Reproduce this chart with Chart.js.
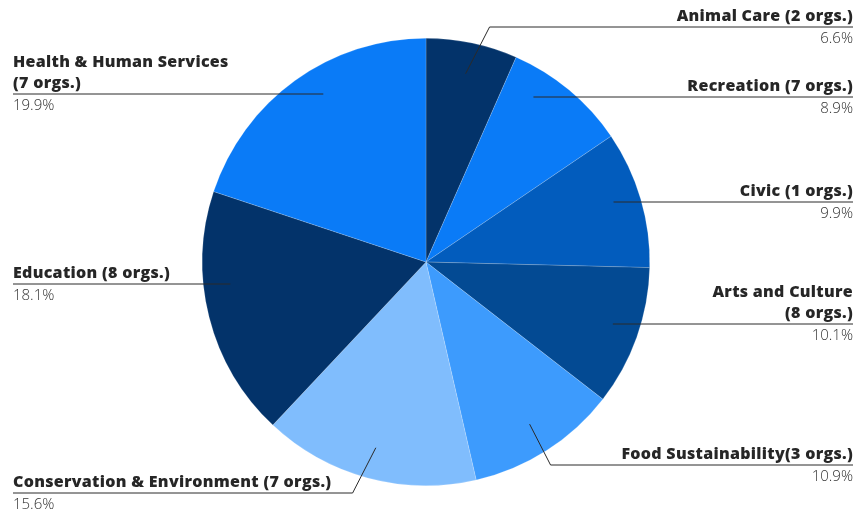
<!DOCTYPE html>
<html>
<head>
<meta charset="utf-8">
<script src="https://cdn.jsdelivr.net/npm/chart.js@4/dist/chart.umd.min.js"></script>
<style>
html,body{margin:0;padding:0;background:#fff;}
#wrap{width:856px;height:510px;position:relative;}
</style>
</head>
<body>
<div id="wrap"><canvas id="c" width="856" height="510"></canvas></div>
<script>
const categories = [
  ['Animal Care (2 orgs.)'],
  ['Recreation (7 orgs.)'],
  ['Civic (1 orgs.)'],
  ['Arts and Culture', '(8 orgs.)'],
  ['Food Sustainability(3 orgs.)'],
  ['Conservation & Environment (7 orgs.)'],
  ['Education (8 orgs.)'],
  ['Health & Human Services', '(7 orgs.)']
];
const values = [6.6, 8.9, 9.9, 10.1, 10.9, 15.6, 18.1, 19.9];
const colors = ['#03336a', '#0a7bf7', '#025cbd', '#034a93', '#3d9bfd', '#80bdfd', '#03336a', '#0a7bf7'];
const labelLineY = [27, 97, 202, 324, 465, 493, 284, 94];

const labelPlugin = {
  id: 'leaderLabels',
  afterDraw(chart) {
    const ctx = chart.ctx;
    const meta = chart.getDatasetMeta(0);
    const W = chart.width;
    const leftX = 13, rightX = W - 3;
    ctx.save();
    meta.data.forEach((arc, i) => {
      const p = arc.getProps(['x', 'y', 'startAngle', 'endAngle', 'outerRadius'], true);
      const mid = (p.startAngle + p.endAngle) / 2;
      const r = p.outerRadius;
      const right = Math.cos(mid) >= 0;
      const ly = labelLineY[i];
      let sx = p.x + Math.cos(mid) * r * 0.86;
      let sy = p.y + Math.sin(mid) * r * 0.86;
      ctx.strokeStyle = '#2a2a2a';
      ctx.lineWidth = 1;
      ctx.beginPath();
      if (Math.abs(sy - ly) <= 40) {
        const dy = ly - p.y;
        const rr = r * 0.88;
        const dx = Math.sqrt(Math.max(rr * rr - dy * dy, 0));
        sx = p.x + (right ? dx : -dx);
        ctx.moveTo(sx, ly);
        ctx.lineTo(right ? rightX : leftX, ly);
      } else {
        const ex = sx + (right ? 1 : -1) * Math.abs(ly - sy) / 1.95;
        ctx.moveTo(sx, sy);
        ctx.lineTo(ex, ly);
        ctx.lineTo(right ? rightX : leftX, ly);
      }
      ctx.stroke();

      const lines = categories[i];
      ctx.fillStyle = '#262626';
      ctx.font = '800 16px "Open Sans", "Noto Sans", sans-serif';
      try { ctx.letterSpacing = '0.3px'; } catch (e) {}
      ctx.textAlign = right ? 'right' : 'left';
      ctx.textBaseline = 'alphabetic';
      const tx = right ? rightX : leftX;
      for (let k = 0; k < lines.length; k++) {
        const yy = ly - 6 - (lines.length - 1 - k) * 21;
        ctx.fillText(lines[k], tx, yy);
      }
      try { ctx.letterSpacing = '0px'; } catch (e) {}
      ctx.font = '300 15px "Open Sans", "Noto Sans", sans-serif';
      ctx.fillStyle = '#333333';
      ctx.fillText(values[i].toFixed(1) + '%', tx, ly + 16);
    });
    ctx.restore();
  }
};

new Chart(document.getElementById('c'), {
  type: 'pie',
  data: {
    labels: categories.map(l => l.join(' ')),
    datasets: [{
      data: values,
      backgroundColor: colors,
      borderColor: 'rgba(255,255,255,0.35)',
      borderWidth: 0.5
    }]
  },
  options: {
    responsive: false,
    animation: false,
    layout: { padding: { top: 38, bottom: 24, left: 202, right: 206 } },
    plugins: {
      legend: { display: false },
      tooltip: { enabled: false }
    }
  },
  plugins: [labelPlugin]
});
</script>
</body>
</html>
